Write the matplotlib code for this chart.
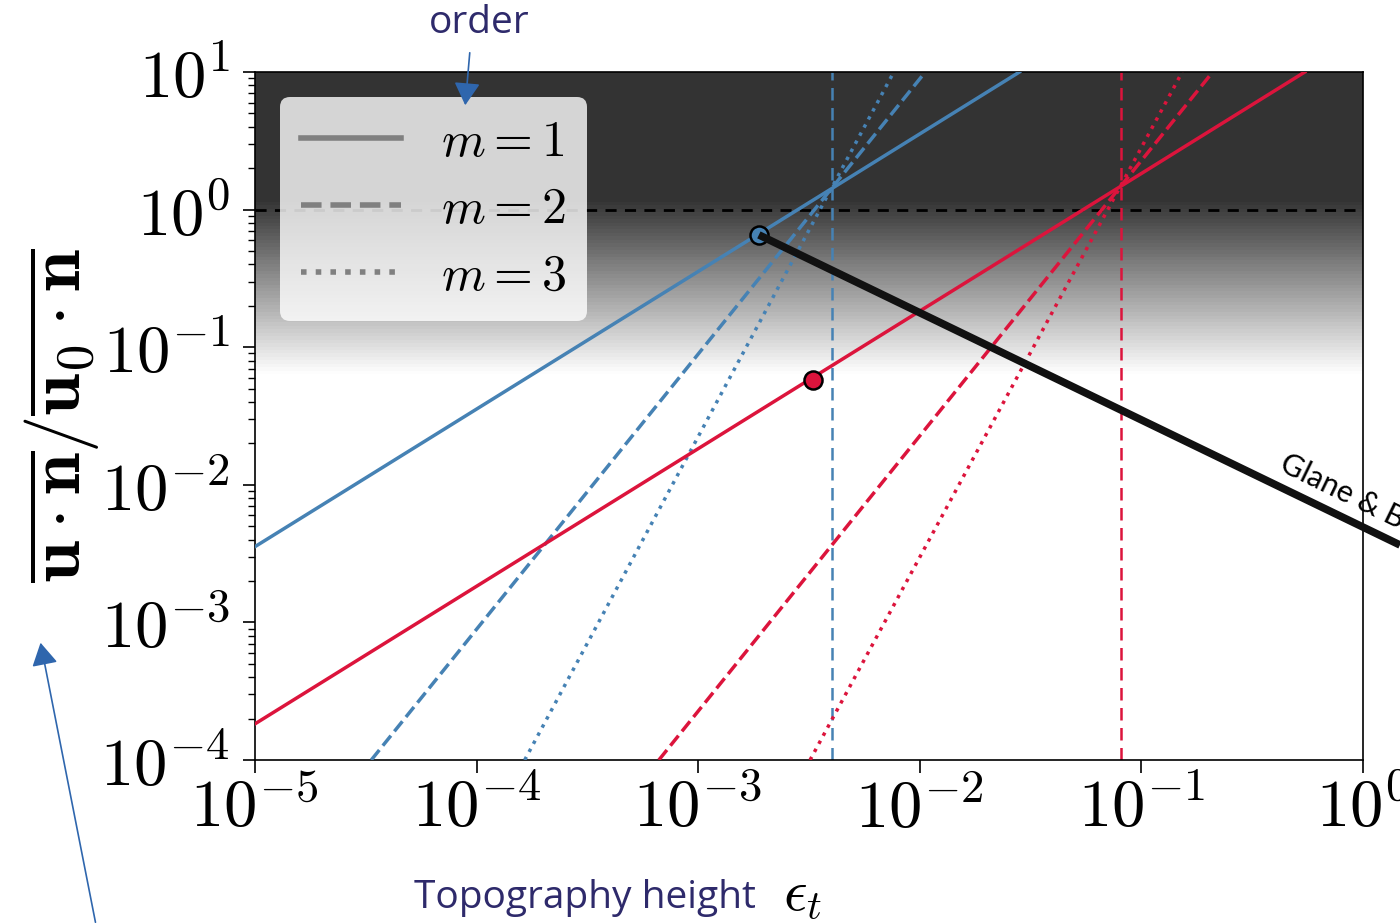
import matplotlib as mpl
import matplotlib.pyplot as plt
import numpy as np

mpl.rcParams['mathtext.fontset'] = 'cm'

# line end points (log-log straight lines)
blue_m1_x = [1e-5, 0.0282]
blue_m1_y = [3.55e-3, 10]
blue_m2_x = [3.35e-5, 0.0106]
blue_m2_y = [1e-4, 10]
blue_m3_x = [1.65e-4, 7.64e-3]
blue_m3_y = [1e-4, 10]

red_m1_x = [1e-5, 0.547]
red_m1_y = [1.83e-4, 10]
red_m2_x = [6.65e-4, 0.21]
red_m2_y = [1e-4, 10]
red_m3_x = [3.2e-3, 0.153]
red_m3_y = [1e-4, 10]

blue_vline = 0.004
red_vline = 0.081
blue_point = (1.88e-3, 0.655)
red_point = (3.3e-3, 0.058)

xticks = [1e-5, 1e-4, 1e-3, 1e-2, 1e-1, 1e0]
xlabels = [r'$10^{-5}$', r'$10^{-4}$', r'$10^{-3}$', r'$10^{-2}$', r'$10^{-1}$', r'$10^{0}$']
yticks = [1e-4, 1e-3, 1e-2, 1e-1, 1e0, 1e1]
ylabels = [r'$10^{-4}$', r'$10^{-3}$', r'$10^{-2}$', r'$10^{-1}$', r'$10^{0}$', r'$10^{1}$']

blue = '#4682b4'
red = '#dc143c'
navy = '#2e2a6b'
arrow_blue = '#2f66ad'

fig = plt.figure(figsize=(14, 9.23), dpi=100)
ax = fig.add_axes([0.1821, 0.1766, 0.7914, 0.7454])
ax.set_xscale('log')
ax.set_yscale('log')
ax.set_xlim(1e-5, 1e0)
ax.set_ylim(1e-4, 1e1)

# dark -> white background gradient
grad = np.ones((200, 2))
yy = np.linspace(1, 0, 200)
grad[:, 0] = np.clip(0.2 + 0.8 * (0.814 - yy) / (0.814 - 0.56), 0.2, 1.0)
grad[:, 1] = grad[:, 0]
ax.imshow(grad, cmap='gray', vmin=0, vmax=1, extent=[0, 1, 0, 1],
          transform=ax.transAxes, aspect='auto', zorder=0)

ax.axhline(1.0, color='black', linestyle=(0, (4, 3)), lw=2, zorder=1)
ax.axvline(blue_vline, color=blue, linestyle=(0, (5, 3)), lw=1.8, zorder=2)
ax.axvline(red_vline, color=red, linestyle=(0, (5, 3)), lw=1.8, zorder=2)

ax.plot(blue_m1_x, blue_m1_y, color=blue, lw=2.5, zorder=3)
ax.plot(blue_m2_x, blue_m2_y, color=blue, lw=2.5, linestyle='--', zorder=3)
ax.plot(blue_m3_x, blue_m3_y, color=blue, lw=2.5, linestyle=':', zorder=3)
ax.plot(red_m1_x, red_m1_y, color=red, lw=2.5, zorder=3)
ax.plot(red_m2_x, red_m2_y, color=red, lw=2.5, linestyle='--', zorder=3)
ax.plot(red_m3_x, red_m3_y, color=red, lw=2.5, linestyle=':', zorder=3)

# legend handles in gray
ax.plot([], [], color='gray', lw=4, label=r'$m=1$')
ax.plot([], [], color='gray', lw=4, linestyle='--', label=r'$m=2$')
ax.plot([], [], color='gray', lw=4, linestyle=':', label=r'$m=3$')
leg = ax.legend(loc='upper left', fontsize=36, handlelength=2.0, handletextpad=0.8,
                labelspacing=0.38, borderpad=0.42, borderaxespad=0, framealpha=0.8,
                edgecolor='none', fancybox=True, bbox_to_anchor=(0.0226, 0.9637))
leg.set_zorder(5)

ax.plot(*blue_point, 'o', ms=13, color=blue, mec='black', mew=1.8, zorder=7)
ax.plot(*red_point, 'o', ms=13, color=red, mec='black', mew=1.8, zorder=7)

ax.set_xticks(xticks, xlabels)
ax.set_yticks(yticks, ylabels)
ax.tick_params(axis='both', which='major', labelsize=48, length=9, width=1.2, direction='out')
ax.tick_params(axis='both', which='minor', length=5, width=1, direction='out')
ax.tick_params(axis='x', pad=2)
ax.tick_params(axis='y', pad=9)
for s in ax.spines.values():
    s.set_linewidth(1.2)

# y label
fig.text(0.044, 0.55,
         r'$\overline{\mathbf{u}\cdot\mathbf{n}}/\overline{\mathbf{u_0}\cdot\mathbf{n}}$',
         rotation=90, fontsize=54, ha='center', va='center')

# slide annotations
fig.text(0.296, 0.027, 'Topography height', fontsize=28, color=navy,
         family='Open Sans', ha='left', va='center')
fig.text(0.559, 0.032, r'$\epsilon_t$', fontsize=42, ha='left', va='center')
fig.text(0.342, 0.975, 'order', fontsize=28, color=navy, family='Open Sans',
         ha='center', va='center')

fig.add_artist(mpl.patches.FancyArrowPatch((470 / 1400, 1 - 50 / 923), (465 / 1400, 1 - 108 / 923),
                                           transform=fig.transFigure, arrowstyle='-|>,head_length=14,head_width=8',
                                           color=arrow_blue, lw=1.2, zorder=10))
fig.add_artist(mpl.patches.FancyArrowPatch((96 / 1400, 1 - 925 / 923), (40 / 1400, 1 - 640 / 923),
                                           transform=fig.transFigure, arrowstyle='-|>,head_length=14,head_width=8',
                                           color=arrow_blue, lw=1.2, zorder=10))

# Glane & Busse line from blue point out of the axes
x0, y0 = ax.transData.transform(blue_point)
fig.add_artist(mpl.lines.Line2D([x0 / 1400, 1.0], [y0 / 923, 1 - 545 / 923],
                                transform=fig.transFigure, color='#111111', lw=5.5,
                                solid_capstyle='butt', zorder=6))
fig.text(1278 / 1400, 1 - 470 / 923, 'Glane & Busse', rotation=-26, fontsize=22, family='Lato',
         ha='left', va='baseline', rotation_mode='anchor')

plt.savefig('out.png', dpi=100)
